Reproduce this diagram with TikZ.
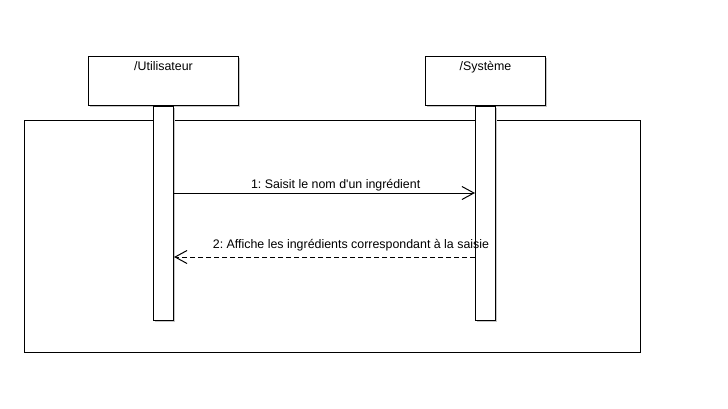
\documentclass[tikz,border=0pt]{standalone}
\usepackage{fontspec}
\setmainfont{Liberation Sans}
\frenchspacing
\usetikzlibrary{positioning}
\usetikzlibrary{arrows.meta}
\usetikzlibrary{shadows}
\tikzset {
  x=1pt, y=-1pt,
  % grey shadow under boxes
  shade/.style={drop shadow={shadow xshift=1.5pt, shadow yshift=-1.5pt, fill=black!22, opacity=1}},
  % participant boxes and lifelines
  actor/.style={draw, fill=white, minimum height=49pt, inner sep=0pt, shade},
  lifeline/.style={draw, fill=white, minimum width=20pt, minimum height=214pt, anchor=north, inner sep=0pt, shade},
  frame/.style={draw, minimum width=616pt, minimum height=232pt, anchor=north west, inner sep=0pt},
  % messages
  msg/.style={-{Straight Barb[length=12pt, width=13pt, line width=1pt]}},
  reply/.style={msg, dash pattern=on 5pt off 3pt},
  lbl/.style={anchor=base, inner sep=0pt},
}

\begin{document}
\begin{tikzpicture}[line width=1pt, font=\fontsize{12.4}{15}\selectfont]
        \useasboundingbox (0,0) rectangle (728,408);

        \node[frame] (frame) at (24,120) {};

        \node[actor, minimum width=150pt, anchor=north west] (user) at (88,56) {};
        \node[actor, minimum width=120pt, right=186pt of user] (sys) {};
        \node[lbl] (userlbl) at ([yshift=-14pt]user.north) {/Utilisateur};
        \node[lbl] (syslbl) at ([yshift=-14pt]sys.north) {/Système};

        \node[lifeline] (userline) at (user.south) {};
        \node[lifeline] (sysline) at (sys.south) {};

        \draw [msg] ([yshift=-87pt]userline.north east) -- node[lbl, pos=0.537, yshift=5pt] {1: Saisit le nom d\textquotesingle un ingrédient} ([yshift=-87pt]sysline.north west);
        \draw [reply] ([yshift=-151pt]sysline.north west) -- node[lbl, pos=0.412, yshift=9pt] {2: Affiche les ingrédients correspondant à la saisie} ([yshift=-151pt]userline.north east);
      \end{tikzpicture}
\end{document}
